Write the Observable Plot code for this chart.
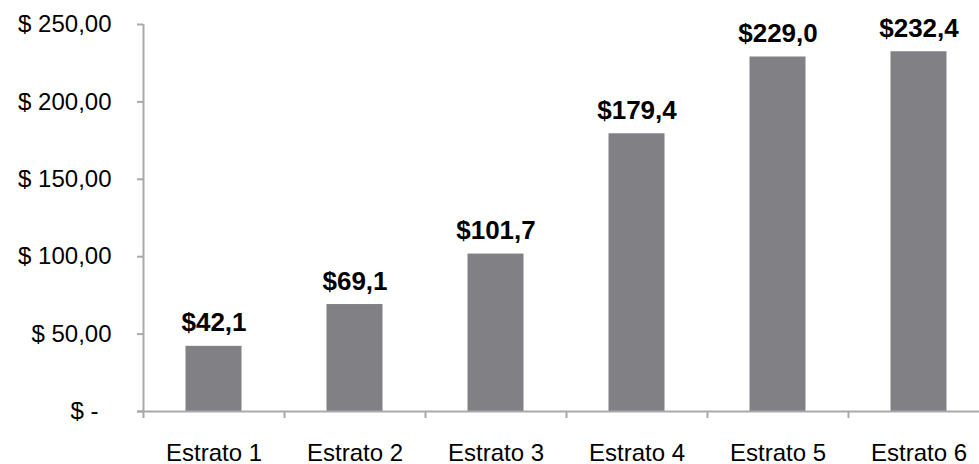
<!DOCTYPE html>
<html>
<head>
<meta charset="utf-8">
<script src="https://cdn.jsdelivr.net/npm/d3@7"></script>
<script src="https://cdn.jsdelivr.net/npm/@observablehq/plot@0.6"></script>
<style>
  html, body { margin: 0; padding: 0; background: #fff; overflow: hidden; }
  #chart svg { font-family: "Liberation Sans", Arial, sans-serif; }
</style>
</head>
<body>
<div id="chart"></div>
<script>
const categories = ["Estrato 1", "Estrato 2", "Estrato 3", "Estrato 4", "Estrato 5", "Estrato 6"];
const values = [42.1, 69.1, 101.7, 179.4, 229.0, 232.4];
const valueLabels = ["$42,1", "$69,1", "$101,7", "$179,4", "$229,0", "$232,4"];
const yTicks = [50, 100, 150, 200, 250];
const yTickLabels = ["$ 50,00", "$ 100,00", "$ 150,00", "$ 200,00", "$ 250,00"];
const zeroLabel = "$ -";

const data = categories.map((c, i) => ({cat: c, value: values[i], label: valueLabels[i]}));
const axisGray = "#a9a9ac";
const barFill = "#808085";
const band = (989 - 143) / categories.length;

const chart = Plot.plot({
  width: 979,
  height: 464,
  marginLeft: 143,
  marginRight: 0,
  marginTop: 24,
  marginBottom: 53,
  style: {fontFamily: '"Liberation Sans", Arial, sans-serif', background: "#fff", overflow: "hidden"},
  x: {domain: categories, range: [143, 989], padding: 0, axis: null},
  y: {domain: [0, 250], axis: null},
  marks: [
    Plot.barY(data, {x: "cat", y: "value", fill: barFill, insetLeft: 42.5, insetRight: 42.5}),
    Plot.ruleY([0], {stroke: axisGray, strokeWidth: 2, insetLeft: -6}),
    Plot.ruleX([categories[0]], {dx: -band / 2, y1: -4.5, y2: 250, stroke: axisGray, strokeWidth: 2}),
    Plot.ruleX(categories.slice(1), {dx: -band / 2, y1: 0, y2: -4.5, stroke: axisGray, strokeWidth: 2}),
    Plot.axisY({
      ticks: yTicks, tickSize: 6, tickPadding: 26, label: null,
      tickFormat: d => yTickLabels[yTicks.indexOf(d)],
      stroke: axisGray, strokeWidth: 2, fill: "black",
      fontSize: 24, letterSpacing: "0.6px", anchor: "left"
    }),
    Plot.axisY({
      ticks: [0], tickSize: 6, tickPadding: 39, label: null,
      tickFormat: () => zeroLabel,
      stroke: axisGray, strokeWidth: 2, fill: "black",
      fontSize: 24, letterSpacing: "0.6px", anchor: "left"
    }),
    Plot.text(data, {
      x: "cat", y: 0, text: "cat", dy: 49, lineAnchor: "bottom",
      fontSize: 24, letterSpacing: "0.4px", fill: "black"
    }),
    Plot.text(data, {
      x: "cat", y: "value", text: "label", dy: -15, lineAnchor: "bottom",
      fontSize: 26, fontWeight: "bold", fill: "black"
    })
  ]
});
document.getElementById("chart").append(chart);
</script>
</body>
</html>
